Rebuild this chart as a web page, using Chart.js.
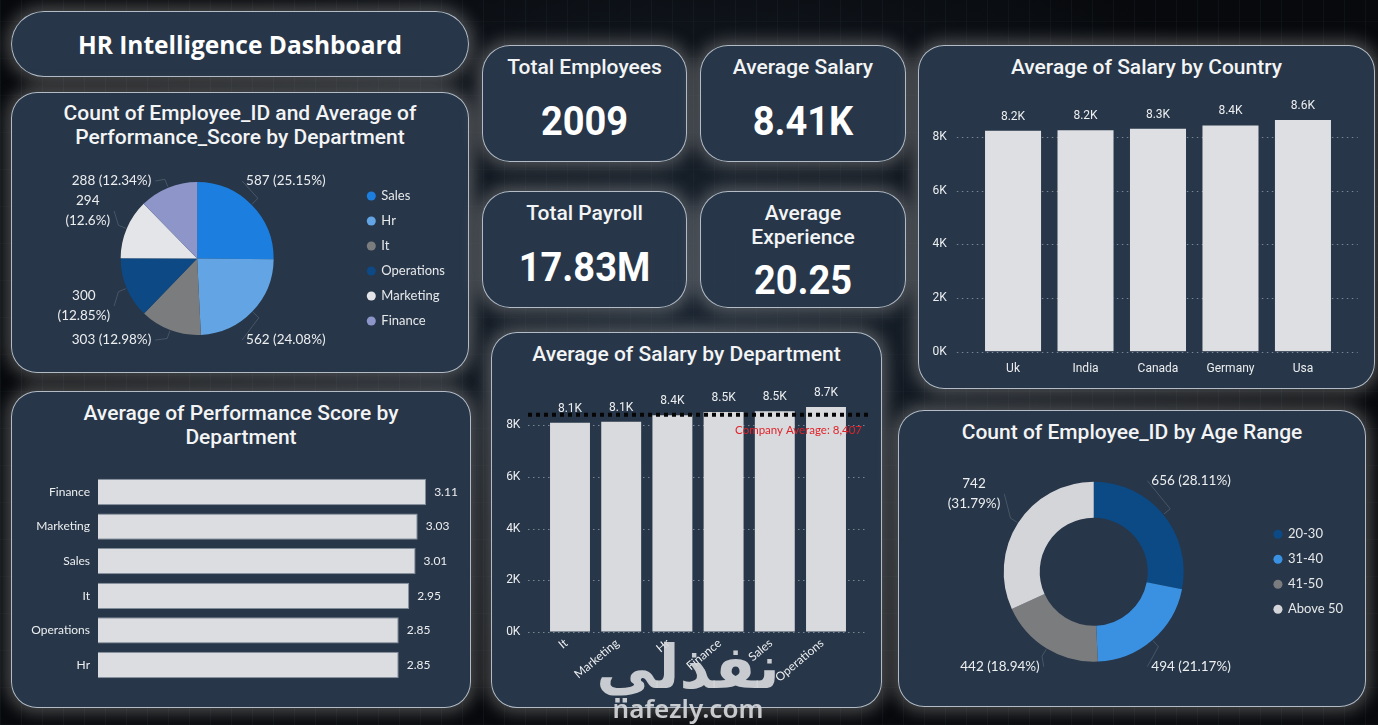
<!DOCTYPE html>
<html>
<head>
<meta charset="utf-8">
<title>HR Intelligence Dashboard</title>
<script src="https://cdn.jsdelivr.net/npm/chart.js@4.4.1/dist/chart.umd.min.js"></script>
<style>
html, body { margin: 0; padding: 0; }
body {
  width: 1378px; height: 725px; overflow: hidden; position: relative;
  font-family: Lato, sans-serif; color: #f4f5f6;
  background:
    radial-gradient(ellipse at 50% 40%, rgba(45,62,82,0.55) 0%, rgba(10,14,20,0) 65%),
    repeating-linear-gradient(90deg, rgba(110,130,150,0.07) 0 1px, transparent 1px 21px),
    repeating-linear-gradient(0deg, rgba(110,130,150,0.04) 0 1px, transparent 1px 37px),
    #07090c;
}
.panel {
  position: absolute; box-sizing: border-box;
  background: rgba(40,56,74,0.97);
  border: 1px solid rgba(215,222,230,0.8);
  border-radius: 26px;
  box-shadow: 0 0 16px 5px rgba(165,165,165,0.42);
}
.ttl {
  position: absolute; text-align: center; white-space: nowrap;
  font-family: Roboto, sans-serif; font-weight: 500; font-size: 21px; line-height: 24px; color: #f3f4f5;
}
.kv {
  position: absolute; text-align: center; white-space: nowrap;
  font-family: Roboto, sans-serif; font-weight: 700; font-size: 40px; line-height: 44px; color: #ffffff;
  transform: scaleX(0.95);
}
.box { position: absolute; }
.wm { position: absolute; text-align: center; color: rgba(214,216,219,0.92); z-index: 5; }
</style>
</head>
<body>

<!-- panels -->
<div class="panel" style="left:11px;top:11px;width:458px;height:66px;border-radius:33px;"></div>
<div class="panel" style="left:11px;top:92px;width:458px;height:281px;"></div>
<div class="panel" style="left:11px;top:391px;width:460px;height:317px;"></div>
<div class="panel" style="left:482px;top:45px;width:205px;height:117px;border-radius:28px;"></div>
<div class="panel" style="left:700px;top:45px;width:206px;height:117px;border-radius:28px;"></div>
<div class="panel" style="left:482px;top:191px;width:205px;height:117px;border-radius:28px;"></div>
<div class="panel" style="left:700px;top:191px;width:206px;height:117px;border-radius:28px;"></div>
<div class="panel" style="left:491px;top:332px;width:391px;height:376px;"></div>
<div class="panel" style="left:918px;top:45px;width:457px;height:344px;"></div>
<div class="panel" style="left:898px;top:410px;width:468px;height:297px;"></div>

<!-- titles -->
<div class="ttl" style="left:11px;top:30px;width:458px;font-family:'Open Sans',sans-serif;font-weight:700;font-size:24.5px;line-height:30px;color:#fff;">HR Intelligence Dashboard</div>
<div class="ttl" style="left:11px;top:101px;width:458px;">Count of Employee_ID and Average of<br>Performance_Score by Department</div>
<div class="ttl" style="left:11px;top:401px;width:460px;">Average of Performance Score by<br>Department</div>
<div class="ttl" style="left:491px;top:342px;width:391px;">Average of Salary by Department</div>
<div class="ttl" style="left:918px;top:55px;width:457px;">Average of Salary by Country</div>
<div class="ttl" style="left:898px;top:420px;width:468px;">Count of Employee_ID by Age Range</div>

<!-- KPI cards -->
<div class="ttl" id="kt0" style="left:482px;top:55px;width:205px;"></div>
<div class="kv"  id="kv0" style="left:482px;top:100px;width:205px;"></div>
<div class="ttl" id="kt1" style="left:700px;top:55px;width:206px;"></div>
<div class="kv"  id="kv1" style="left:700px;top:100px;width:206px;"></div>
<div class="ttl" id="kt2" style="left:482px;top:201px;width:205px;"></div>
<div class="kv"  id="kv2" style="left:482px;top:246px;width:205px;"></div>
<div class="ttl" id="kt3" style="left:700px;top:201px;width:206px;"></div>
<div class="kv"  id="kv3" style="left:700px;top:259px;width:206px;"></div>

<!-- chart boxes -->
<div class="box" style="left:20px;top:165px;width:440px;height:200px;"><canvas id="pieChart"></canvas></div>
<div class="box" style="left:20px;top:465px;width:440px;height:225px;"><canvas id="perfChart"></canvas></div>
<div class="box" style="left:495px;top:380px;width:385px;height:320px;"><canvas id="deptChart"></canvas></div>
<div class="box" style="left:922px;top:80px;width:450px;height:305px;"><canvas id="countryChart"></canvas></div>
<div class="box" style="left:905px;top:455px;width:453px;height:245px;"><canvas id="ageChart"></canvas></div>

<!-- watermark -->
<div class="wm" style="left:558px;top:634px;width:260px;">
  <div style="font-family:'DejaVu Sans',sans-serif;font-weight:700;font-size:60px;line-height:66px;">نفذلي</div>
  <div style="font-family:'Noto Sans',sans-serif;font-weight:600;font-size:26px;line-height:26px;margin-top:-5px;">nafezly.com</div>
</div>

<script>
// KPI cards
const kpiTitles = ["Total Employees", "Average Salary", "Total Payroll", "Average<br>Experience"];
const kpiValues = ["2009", "8.41K", "17.83M", "20.25"];

// pie: employees by department
const deptNames = ["Sales", "Hr", "It", "Operations", "Marketing", "Finance"];
const deptCounts = [587, 562, 303, 300, 294, 288];

// horizontal bars: performance score
const perfDepts = ["Finance", "Marketing", "Sales", "It", "Operations", "Hr"];
const perfScores = [3.11, 3.03, 3.01, 2.95, 2.85, 2.85];

// salary by department
const salaryDepts = ["It", "Marketing", "Hr", "Finance", "Sales", "Operations"];
const salaryByDept = [8100, 8140, 8390, 8510, 8540, 8710];
const companyAvgSalary = 8407;

// salary by country
const countries = ["Uk", "India", "Canada", "Germany", "Usa"];
const salaryByCountry = [8220, 8240, 8300, 8420, 8620];

// y ticks shared by both salary charts
const salaryTicks = [0, 2000, 4000, 6000, 8000];

// donut: age range
const ageRanges = ["20-30", "31-40", "41-50", "Above 50"];
const ageCounts = [656, 494, 442, 742];

kpiTitles.forEach((t, i) => {
  document.getElementById("kt" + i).innerHTML = t;
  document.getElementById("kv" + i).textContent = kpiValues[i];
});

Chart.defaults.font.family = "Lato";
Chart.defaults.color = "#e6e8ea";
Chart.defaults.animation = false;

function kFmt(v) { return (v / 1000).toFixed(1) + "K"; }

// invisible tick marks give the gap between labels and plot
function gapGrid(len) {
  return { display: true, drawOnChartArea: false, drawTicks: true, tickLength: len, tickColor: "rgba(0,0,0,0)" };
}

// dotted horizontal grid that runs a little past the plot area
const dottedGrid = {
  id: "dottedGrid",
  beforeDatasetsDraw(chart, args, opts) {
    const y = chart.scales.y, a = chart.chartArea, ctx = chart.ctx;
    ctx.save();
    ctx.strokeStyle = "rgba(150,160,172,0.75)";
    ctx.lineWidth = 1;
    ctx.setLineDash([1.5, 3.5]);
    y.ticks.forEach(t => {
      const py = Math.round(y.getPixelForValue(t.value)) + 0.5;
      ctx.beginPath();
      ctx.moveTo(a.left - opts.extLeft, py);
      ctx.lineTo(a.right + opts.extRight, py);
      ctx.stroke();
    });
    ctx.restore();
  }
};

// value labels on bars
const barLabels = {
  id: "barLabels",
  afterDatasetsDraw(chart, args, opts) {
    const ctx = chart.ctx;
    const meta = chart.getDatasetMeta(0);
    const vals = chart.data.datasets[0].data;
    const horizontal = chart.options.indexAxis === "y";
    ctx.save();
    ctx.font = opts.font;
    ctx.fillStyle = "#eceef0";
    meta.data.forEach((el, i) => {
      const txt = opts.format(vals[i]);
      if (horizontal) {
        ctx.textAlign = "left"; ctx.textBaseline = "middle";
        ctx.fillText(txt, el.x + opts.gap, el.y);
      } else {
        ctx.textAlign = "center"; ctx.textBaseline = "bottom";
        ctx.fillText(txt, el.x, el.y - opts.gap);
      }
    });
    ctx.restore();
  }
};

// company average reference line
const avgLine = {
  id: "avgLine",
  afterDatasetsDraw(chart, args, opts) {
    const y = chart.scales.y, a = chart.chartArea, ctx = chart.ctx;
    const py = y.getPixelForValue(opts.value);
    ctx.save();
    ctx.strokeStyle = "#060606";
    ctx.lineWidth = 4;
    ctx.setLineDash([4, 4]);
    ctx.beginPath();
    ctx.moveTo(a.left - opts.ext, py);
    ctx.lineTo(a.right + opts.ext, py);
    ctx.stroke();
    ctx.setLineDash([]);
    ctx.fillStyle = "#e0242b";
    ctx.font = "11.5px Lato";
    ctx.textAlign = "right";
    ctx.textBaseline = "middle";
    ctx.fillText("Company Average: " + opts.value.toLocaleString("en-US"), a.right + opts.ext - 6, py + 16);
    ctx.restore();
  }
};

// outside labels "value (pct%)" with faint leader lines
const sliceLabels = {
  id: "sliceLabels",
  afterDatasetsDraw(chart, args, opts) {
    const ctx = chart.ctx;
    const meta = chart.getDatasetMeta(0);
    const data = chart.data.datasets[0].data;
    const total = data.reduce((s, v) => s + v, 0);
    ctx.save();
    ctx.font = "13.5px Lato";
    ctx.fillStyle = "#eceef0";
    ctx.strokeStyle = "rgba(150,162,175,0.3)";
    ctx.lineWidth = 1;
    meta.data.forEach((arc, i) => {
      const p = arc.getProps(["x", "y", "startAngle", "endAngle", "outerRadius"], true);
      const r = p.outerRadius;
      const mid = (p.startAngle + p.endAngle) / 2;
      const cos = Math.cos(mid), sin = Math.sin(mid);
      const pct = +(data[i] / total * 100).toFixed(2);
      const right = cos >= 0;
      let lines, lx, ly;
      if (Math.abs(sin) >= 0.6) {
        lines = [data[i] + " (" + pct + "%)"];
        lx = p.x + (right ? 0.64 : -0.6) * r;
        ly = p.y + (sin > 0 ? r + 5 : -(r + 1));
      } else {
        lines = [String(data[i]), "(" + pct + "%)"];
        lx = p.x + cos * r * 1.235;
        ly = p.y + sin * r * 1.6;
      }
      // leader line
      const x0 = p.x + cos * (r + 1), y0 = p.y + sin * (r + 1);
      const x1 = p.x + cos * (r + 9), y1 = p.y + sin * (r + 9);
      ctx.beginPath();
      ctx.moveTo(x0, y0);
      ctx.lineTo(x1, y1);
      ctx.lineTo(lx + (right ? -4 : 4), ly);
      ctx.stroke();
      ctx.textAlign = right ? "left" : "right";
      ctx.textBaseline = "middle";
      if (lines.length === 1) {
        ctx.fillText(lines[0], lx, ly);
      } else {
        const w = Math.max(ctx.measureText(lines[0]).width, ctx.measureText(lines[1]).width);
        ctx.textAlign = "center";
        const cx = right ? lx + w / 2 : lx - w / 2;
        ctx.fillText(lines[0], cx, ly - 10);
        ctx.fillText(lines[1], cx, ly + 10);
      }
    });
    ctx.restore();
  }
};

function legendOpts() {
  return {
    position: "right",
    labels: {
      usePointStyle: true, pointStyle: "circle",
      boxWidth: 7, boxHeight: 6.4, padding: 12,
      color: "#e6e8ea", font: { size: 13, family: "Lato" }
    }
  };
}

new Chart(document.getElementById("pieChart"), {
  type: "pie",
  data: {
    labels: deptNames,
    datasets: [{
      data: deptCounts,
      backgroundColor: ["#1c7fe0", "#63a5e4", "#7b7c7e", "#0d4a85", "#e4e5e8", "#8e96c9"],
      borderWidth: 0, hoverOffset: 0
    }]
  },
  options: {
    responsive: true, maintainAspectRatio: false,
    radius: 76.5,
    layout: { padding: { left: 18.5, top: 3.5, right: 5, bottom: 16.5 } },
    plugins: { legend: legendOpts(), tooltip: { enabled: false } }
  },
  plugins: [sliceLabels]
});

new Chart(document.getElementById("ageChart"), {
  type: "doughnut",
  data: {
    labels: ageRanges,
    datasets: [{
      data: ageCounts,
      backgroundColor: ["#0c4a86", "#3a91e2", "#7b7c7e", "#d3d5d9"],
      borderWidth: 0, hoverOffset: 0
    }]
  },
  options: {
    responsive: true, maintainAspectRatio: false,
    cutout: "60%",
    layout: { padding: { left: 20, top: 26.7, right: 5, bottom: 38.3 } },
    plugins: { legend: legendOpts(), tooltip: { enabled: false } }
  },
  plugins: [sliceLabels]
});

new Chart(document.getElementById("perfChart"), {
  type: "bar",
  data: {
    labels: perfDepts,
    datasets: [{
      data: perfScores,
      backgroundColor: "#dcdde1",
      borderColor: "rgba(140,150,162,0.9)",
      borderWidth: 1,
      categoryPercentage: 1, barPercentage: 0.76
    }]
  },
  options: {
    indexAxis: "y",
    responsive: true, maintainAspectRatio: false,
    layout: { padding: { left: 0, top: 9.7, right: 13.8, bottom: 7.7 } },
    scales: {
      x: { display: false, min: 0, max: 3.3 },
      y: {
        grid: gapGrid(8), border: { display: false },
        ticks: { color: "#eceef0", font: { size: 12, family: "Lato" }, padding: 0 },
        afterFit: s => { s.width = 78; }
      }
    },
    plugins: {
      legend: { display: false }, tooltip: { enabled: false },
      barLabels: { font: "12px Lato", gap: 8, format: v => v.toFixed(2) }
    }
  },
  plugins: [barLabels]
});

function columnOptions(cfg) {
  return {
    responsive: true, maintainAspectRatio: false,
    layout: { padding: cfg.padding },
    scales: {
      x: {
        grid: { display: false }, border: { display: false },
        ticks: Object.assign({ color: "#eceef0", autoSkip: false }, cfg.xTicks),
        afterFit: s => { s.height = cfg.xHeight; }
      },
      y: {
        min: 0, max: 9000,
        grid: gapGrid(cfg.yPad), border: { display: false },
        ticks: { padding: 0, color: "#eceef0", autoSkip: false,
                 font: { size: 12, family: "Roboto" }, callback: v => (v / 1000) + "K" },
        afterBuildTicks: s => { s.ticks = salaryTicks.map(v => ({ value: v })); },
        afterFit: s => { s.width = cfg.yWidth; }
      }
    },
    plugins: {
      legend: { display: false }, tooltip: { enabled: false },
      dottedGrid: { extLeft: cfg.extLeft, extRight: cfg.extRight },
      barLabels: { font: "12px Roboto", gap: 8, format: kFmt },
      avgLine: { value: companyAvgSalary, ext: cfg.extRight }
    }
  };
}

new Chart(document.getElementById("deptChart"), {
  type: "bar",
  data: {
    labels: salaryDepts,
    datasets: [{
      data: salaryByDept,
      backgroundColor: "#d9dadd",
      categoryPercentage: 1, barPercentage: 0.78
    }]
  },
  options: columnOptions({
    padding: { left: 0, top: 19.4, right: 28.4, bottom: 0 },
    xHeight: 68, yWidth: 49.4, yPad: 24, extLeft: 16.4, extRight: 16.4,
    xTicks: { minRotation: 40, maxRotation: 40, padding: -4, labelOffset: -4, font: { size: 12, family: "Lato" } }
  }),
  plugins: [dottedGrid, barLabels, avgLine]
});

new Chart(document.getElementById("countryChart"), {
  type: "bar",
  data: {
    labels: countries,
    datasets: [{
      data: salaryByCountry,
      backgroundColor: "#dedfe2",
      categoryPercentage: 1, barPercentage: 0.773
    }]
  },
  options: columnOptions({
    padding: { left: 0, top: 29.9, right: 32.8, bottom: 0 },
    xHeight: 33.3, yWidth: 54.8, yPad: 30, extLeft: 20, extRight: 18.5,
    xTicks: { maxRotation: 0, padding: 2, font: { size: 12, family: "Roboto" } }
  }),
  plugins: [dottedGrid, barLabels]
});
</script>
</body>
</html>
